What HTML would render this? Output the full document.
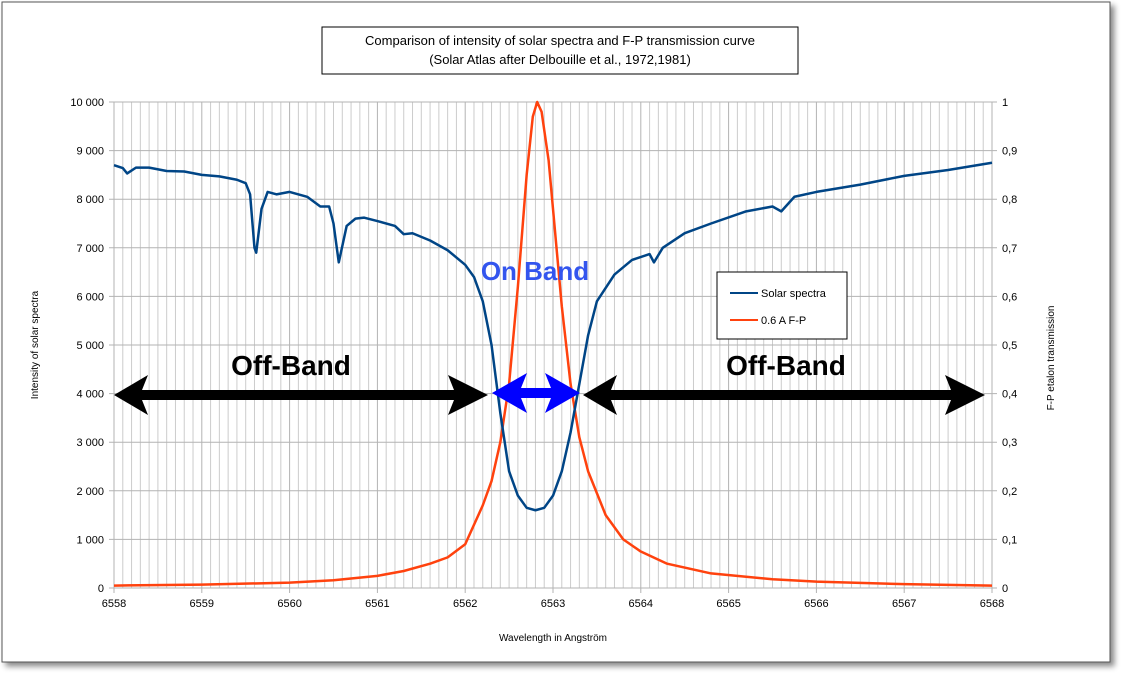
<!DOCTYPE html>
<html><head><meta charset="utf-8"><style>
html,body{margin:0;padding:0;background:#fff;}
svg text{font-family:"Liberation Sans",sans-serif;}
</style></head><body>
<svg id="chart" width="1121" height="674" xmlns="http://www.w3.org/2000/svg">
<defs><filter id="sh" x="-5%" y="-5%" width="110%" height="110%"><feDropShadow dx="4" dy="4" stdDeviation="3" flood-color="#000" flood-opacity="0.45"/></filter></defs>
<rect x="2" y="2" width="1108" height="660" fill="#fff" stroke="#555" stroke-width="1" filter="url(#sh)"/>
<g id="grid"></g>
<g id="axes"></g>
<g id="series"></g>
<g>
<rect x="322" y="27" width="476" height="47" fill="#fff" stroke="#000" stroke-width="1"/>
<text x="560" y="45" font-size="13" text-anchor="middle">Comparison of intensity of solar spectra and F-P transmission curve</text>
<text x="560" y="64" font-size="13" text-anchor="middle">(Solar Atlas after Delbouille et al., 1972,1981)</text>
</g>
<text transform="translate(38,345) rotate(-90)" font-size="10" text-anchor="middle">Intensity of solar spectra</text>
<text transform="translate(1054,358) rotate(-90)" font-size="10" text-anchor="middle">F-P etalon transmission</text>
<text x="553" y="641" font-size="10" text-anchor="middle">Wavelength in Angström</text>
<g>
<rect x="717" y="272" width="130" height="67" fill="#fff" stroke="#000" stroke-width="1"/>
<line x1="730" y1="293" x2="758" y2="293" stroke="#004586" stroke-width="2"/>
<text x="761" y="297" font-size="11">Solar spectra</text>
<line x1="730" y1="320" x2="758" y2="320" stroke="#ff420e" stroke-width="2"/>
<text x="761" y="324" font-size="11">0.6 A F-P</text>
</g>
<g id="series-top"></g>
<g>
<polygon points="114,395 148,375 142,390 454,390 448,375 488,395 448,415 454,400 142,400 148,415" fill="#000"/>
<polygon points="583,395 617,375 611,390 951,390 945,375 985,395 945,415 951,400 611,400 617,415" fill="#000"/>
<polygon points="492,393 527,373 521,388 551,388 545,373 580,393 545,413 551,398 521,398 527,413" fill="#0000ff"/>
<text x="291" y="375" font-size="28" font-weight="bold" text-anchor="middle">Off-Band</text>
<text x="786" y="375" font-size="28" font-weight="bold" text-anchor="middle">Off-Band</text>
<text x="535" y="280" font-size="26" font-weight="bold" fill="#3355ee" text-anchor="middle">On Band</text>
</g>
</svg>
<script>
const xTicks=[6558,6559,6560,6561,6562,6563,6564,6565,6566,6567,6568];
const yTicksLeft=["0","1 000","2 000","3 000","4 000","5 000","6 000","7 000","8 000","9 000","10 000"];
const yTicksRight=["0","0,1","0,2","0,3","0,4","0,5","0,6","0,7","0,8","0,9","1"];
const solarWl=[6558.0,6558.1,6558.15,6558.25,6558.4,6558.6,6558.8,6559.0,6559.2,6559.4,6559.5,6559.55,6559.6,6559.62,6559.68,6559.75,6559.85,6560.0,6560.2,6560.35,6560.45,6560.5,6560.56,6560.65,6560.75,6560.85,6561.0,6561.2,6561.3,6561.4,6561.6,6561.8,6562.0,6562.1,6562.2,6562.3,6562.4,6562.5,6562.6,6562.7,6562.8,6562.9,6563.0,6563.1,6563.2,6563.3,6563.4,6563.5,6563.7,6563.9,6564.1,6564.15,6564.25,6564.5,6564.8,6565.2,6565.5,6565.6,6565.75,6566.0,6566.5,6567.0,6567.5,6568.0];
const solarVal=[8700,8640,8530,8650,8650,8580,8570,8500,8470,8400,8330,8100,7000,6900,7800,8150,8100,8150,8050,7850,7850,7500,6700,7450,7600,7620,7550,7450,7280,7300,7150,6950,6650,6400,5900,5000,3600,2400,1900,1650,1600,1650,1900,2400,3200,4200,5200,5900,6450,6750,6870,6700,7000,7300,7500,7750,7850,7750,8050,8150,8300,8480,8600,8750];
const fpWl=[6558,6559,6560,6560.5,6561,6561.3,6561.6,6561.8,6562.0,6562.2,6562.3,6562.4,6562.5,6562.6,6562.7,6562.77,6562.82,6562.87,6562.95,6563.0,6563.1,6563.2,6563.3,6563.4,6563.6,6563.8,6564.0,6564.3,6564.8,6565.5,6566,6567,6568];
const fpVal=[0.005,0.007,0.011,0.016,0.025,0.035,0.05,0.063,0.09,0.17,0.22,0.3,0.42,0.62,0.85,0.97,1.0,0.98,0.88,0.78,0.58,0.42,0.31,0.24,0.15,0.1,0.075,0.05,0.03,0.018,0.013,0.008,0.005];
const X0=114,X1=992,Y0=588,Y1=102;
const xs=w=>X0+(w-6558)/10*(X1-X0);
const yl=v=>Y0-v/10000*(Y0-Y1);
const yr=v=>Y0-v*(Y0-Y1);
const NS="http://www.w3.org/2000/svg";
function mk(tag,attrs,parent){const e=document.createElementNS(NS,tag);for(const k in attrs)e.setAttribute(k,attrs[k]);parent.appendChild(e);return e;}
const grid=document.getElementById('grid'),axes=document.getElementById('axes'),series=document.getElementById('series');
for(let i=0;i<=100;i++){const x=xs(6558+i*0.1);
const l=mk('line',{x1:x,y1:Y1,x2:x,y2:Y0,stroke:i%10===0?'#b3b3b3':'#cccccc','stroke-width':1},grid);

}
yTicksLeft.forEach((t,i)=>{const y=yl(i*1000);
const l=mk('line',{x1:X0-5,y1:y,x2:X1+5,y2:y,stroke:'#b3b3b3','stroke-width':1},grid);


const tl=mk('text',{x:X0-10,y:y+4,'font-size':11,'text-anchor':'end'},axes);tl.textContent=t;


const tr=mk('text',{x:X1+10,y:y+4,'font-size':11},axes);tr.textContent=yTicksRight[i];

});
xTicks.forEach(w=>{const x=xs(w);
const tk=mk('line',{x1:x,y1:Y0,x2:x,y2:Y0+5,stroke:'#b3b3b3'},axes);


const t=mk('text',{x:x,y:Y0+19,'font-size':11,'text-anchor':'middle'},axes);t.textContent=w;

});
const fp=mk('polyline',{points:fpWl.map((w,i)=>xs(w)+','+yr(fpVal[i])).join(' '),fill:'none',stroke:'#ff420e','stroke-width':2.5,'stroke-linejoin':'round'},series);


const sol=mk('polyline',{points:solarWl.map((w,i)=>xs(w)+','+yl(solarVal[i])).join(' '),fill:'none',stroke:'#004586','stroke-width':2.5,'stroke-linejoin':'round'},series);


</script>
</body></html>
